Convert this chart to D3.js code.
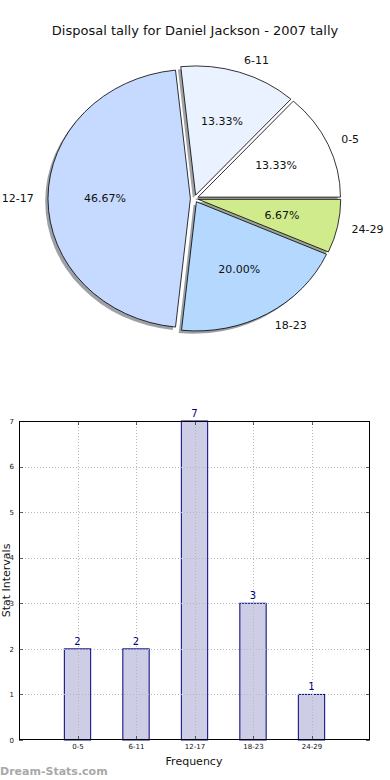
<!DOCTYPE html>
<html>
<head>
<meta charset="utf-8">
<script src="https://cdn.jsdelivr.net/npm/d3@7"></script>
<style>
  body { margin: 0; background: #fff; }
  svg { display: block; font-family: "DejaVu Sans", sans-serif; }
</style>
</head>
<body>
<svg id="chart" width="390" height="780"></svg>
<script>
const categories = ['0-5', '6-11', '12-17', '18-23', '24-29'];
const tallies = [2, 2, 7, 3, 1];
const sliceColours = ['#ffffff', '#eaf1ff', '#c6d9ff', '#b5d8ff', '#cfeb8b'];
const yTicks = [0, 1, 2, 3, 4, 5, 6, 7];
const title = 'Disposal tally for Daniel Jackson - 2007 tally';

const svg = d3.select('#chart');

// ---------- pie ----------
const pie = { cx: 194.4, cy: 198.6, rx: 142.4, ry: 129.2, explode: 4 };
const squash = pie.ry / pie.rx;
const total = d3.sum(tallies);

svg.append('text')
    .attr('x', 195)
    .attr('y', 35)
    .attr('text-anchor', 'middle')
    .attr('font-size', 13)
    .attr('fill', '#111')
    .text(title);

// matplotlib starts at 3 o'clock and turns counterclockwise
let slices = d3.pie()
    .sort(null)
    .startAngle(Math.PI / 2)
    .endAngle(Math.PI / 2 - 2 * Math.PI)(tallies);

let arc = d3.arc().innerRadius(0).outerRadius(pie.rx);

let pieG = svg.append('g')
    .attr('transform', `translate(${pie.cx},${pie.cy}) scale(1,${squash})`);

function offset(d, dist) {
    let mid = (d.startAngle + d.endAngle) / 2;
    return [Math.sin(mid) * dist, -Math.cos(mid) * dist];
}

// shadows first
pieG.selectAll('.shadow')
    .data(slices)
    .enter()
    .append('path')
    .attr('class', 'shadow')
    .attr('d', arc)
    .attr('transform', d => {
        let [ox, oy] = offset(d, pie.explode);
        return `translate(${ox - 2.8},${oy + 2.8 / squash})`;
    })
    .attr('fill', (d, i) => {
        let c = d3.rgb(sliceColours[i]);
        return d3.rgb(c.r * 0.3, c.g * 0.3, c.b * 0.3);
    })
    .attr('fill-opacity', 0.5)
    .attr('stroke', 'none');

pieG.selectAll('.slice')
    .data(slices)
    .enter()
    .append('path')
    .attr('class', 'slice')
    .attr('d', arc)
    .attr('transform', d => {
        let [ox, oy] = offset(d, pie.explode);
        return `translate(${ox},${oy})`;
    })
    .attr('fill', (d, i) => sliceColours[i])
    .attr('stroke', '#000')
    .attr('stroke-width', 0.8)
    .attr('vector-effect', 'non-scaling-stroke');

// labels in screen space
slices.forEach((d, i) => {
    let mid = (d.startAngle + d.endAngle) / 2;
    let sx = Math.sin(mid), sy = -Math.cos(mid);
    let lx = pie.cx + (1.1 * pie.rx + pie.explode) * sx;
    let ly = pie.cy + (1.1 * pie.rx + pie.explode) * sy * squash;
    svg.append('text')
        .attr('x', lx)
        .attr('y', ly)
        .attr('dy', '0.35em')
        .attr('text-anchor', sx > 0 ? 'start' : 'end')
        .attr('font-size', 11)
        .attr('fill', '#111')
        .text(categories[i]);

    let px = pie.cx + (0.6 * pie.rx + pie.explode) * sx;
    let py = pie.cy + (0.6 * pie.rx + pie.explode) * sy * squash;
    svg.append('text')
        .attr('x', px)
        .attr('y', py)
        .attr('dy', '0.35em')
        .attr('text-anchor', 'middle')
        .attr('font-size', 11)
        .attr('fill', '#111')
        .text((tallies[i] / total * 100).toFixed(2) + '%');
});

// ---------- bars ----------
const box = { left: 19, right: 370, top: 421, bottom: 740 };

let xScale = d3.scaleLinear()
    .domain([-1, categories.length])
    .range([box.left, box.right]);

let yScale = d3.scaleLinear()
    .domain([0, 7])
    .range([box.bottom, box.top]);

let barW = xScale(0.45) - xScale(0);

let barG = svg.append('g');

barG.selectAll('.bar')
    .data(tallies)
    .enter()
    .append('rect')
    .attr('class', 'bar')
    .attr('x', (d, i) => xScale(i) - barW / 2)
    .attr('y', d => yScale(d))
    .attr('width', barW)
    .attr('height', d => yScale(0) - yScale(d))
    .attr('fill', '#cdcde6')
    .attr('stroke', '#000080')
    .attr('stroke-width', 1);

// grid on top of bars
barG.selectAll('.hgrid')
    .data(yTicks.slice(1, -1))
    .enter()
    .append('line')
    .attr('x1', box.left)
    .attr('x2', box.right)
    .attr('y1', d => Math.round(yScale(d)) + 0.5)
    .attr('y2', d => Math.round(yScale(d)) + 0.5)
    .attr('stroke', '#b8b8b8')
    .attr('stroke-dasharray', '1,2');

barG.selectAll('.vgrid')
    .data(categories)
    .enter()
    .append('line')
    .attr('x1', (d, i) => Math.round(xScale(i)) + 0.5)
    .attr('x2', (d, i) => Math.round(xScale(i)) + 0.5)
    .attr('y1', box.top)
    .attr('y2', box.bottom)
    .attr('stroke', '#b8b8b8')
    .attr('stroke-dasharray', '1,2');

// inward tick marks on all four sides
yTicks.forEach(t => {
    let y = Math.round(yScale(t)) + 0.5;
    barG.append('line').attr('x1', box.left).attr('x2', box.left + 4)
        .attr('y1', y).attr('y2', y).attr('stroke', '#000').attr('stroke-width', 0.6);
    barG.append('line').attr('x1', box.right - 4).attr('x2', box.right)
        .attr('y1', y).attr('y2', y).attr('stroke', '#000').attr('stroke-width', 0.6);
});
categories.forEach((c, i) => {
    let x = Math.round(xScale(i)) + 0.5;
    barG.append('line').attr('x1', x).attr('x2', x)
        .attr('y1', box.bottom - 4).attr('y2', box.bottom).attr('stroke', '#000').attr('stroke-width', 0.6);
    barG.append('line').attr('x1', x).attr('x2', x)
        .attr('y1', box.top).attr('y2', box.top + 4).attr('stroke', '#000').attr('stroke-width', 0.6);
});

barG.append('rect')
    .attr('x', box.left + 0.5)
    .attr('y', box.top + 0.5)
    .attr('width', box.right - box.left - 1)
    .attr('height', box.bottom - box.top - 1)
    .attr('fill', 'none')
    .attr('stroke', '#000')
    .attr('stroke-width', 1);

// axes text
let xAxis = d3.axisBottom(xScale)
    .tickValues(d3.range(categories.length))
    .tickFormat(i => categories[i])
    .tickSize(0)
    .tickPadding(4);

let yAxis = d3.axisLeft(yScale)
    .tickValues(yTicks)
    .tickFormat(d3.format('d'))
    .tickSize(0)
    .tickPadding(5);

let gx = barG.append('g')
    .attr('transform', `translate(0,${box.bottom})`)
    .call(xAxis);
let gy = barG.append('g')
    .attr('transform', `translate(${box.left},0)`)
    .call(yAxis);
[gx, gy].forEach(g => {
    g.select('.domain').remove();
    g.selectAll('text').attr('font-size', 7).attr('fill', '#111')
        .attr('font-family', '"DejaVu Sans", sans-serif');
});

barG.selectAll('.val')
    .data(tallies)
    .enter()
    .append('text')
    .attr('x', (d, i) => xScale(i))
    .attr('y', d => yScale(d) - 4)
    .attr('text-anchor', 'middle')
    .attr('font-size', 10)
    .attr('fill', '#000080')
    .text(d => d);

svg.append('text')
    .attr('x', 194)
    .attr('y', 765)
    .attr('text-anchor', 'middle')
    .attr('font-size', 11)
    .attr('fill', '#111')
    .text('Frequency');

svg.append('text')
    .attr('transform', `translate(10,${(box.top + box.bottom) / 2}) rotate(-90)`)
    .attr('text-anchor', 'middle')
    .attr('font-size', 11)
    .attr('fill', '#111')
    .text('Stat Intervals');

svg.append('text')
    .attr('x', 0)
    .attr('y', 775)
    .attr('font-size', 11)
    .attr('font-weight', 'bold')
    .attr('fill', '#a8a8a8')
    .text('Dream-Stats.com');
</script>
</body>
</html>
